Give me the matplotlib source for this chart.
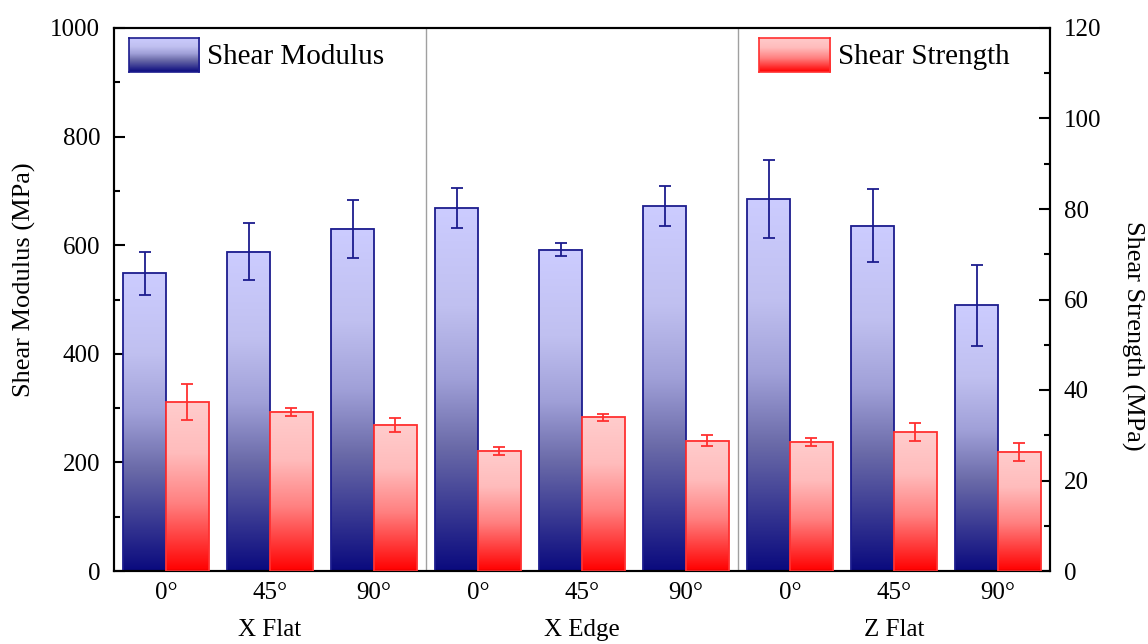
import numpy as np
import matplotlib
matplotlib.use("Agg")
import matplotlib.pyplot as plt
from matplotlib.colors import LinearSegmentedColormap

# data
groups = ["X Flat", "X Edge", "Z Flat"]
angles = ["0°", "45°", "90°"] * 3
modulus = [548, 588, 630, 668, 592, 672, 685, 636, 489]
modulus_err = [40, 52, 53, 37, 12, 37, 72, 67, 75]
strength = [37.3, 35.2, 32.3, 26.6, 34.0, 28.8, 28.6, 30.7, 26.3]
strength_err = [4.0, 0.9, 1.5, 0.9, 0.8, 1.2, 0.9, 2.0, 2.0]

plt.rcParams["font.family"] = ["Liberation Serif", "DejaVu Serif"]

blue_edge = "#1c1c8e"
red_edge = "#ff3030"
blue_cmap = LinearSegmentedColormap.from_list(
    "bluegrad",
    [(0.0, "#0a0a7e"), (0.34, "#6a6aa8"), (0.53, "#a0a0d8"), (0.73, "#c0c0f0"), (1.0, "#ccccff")],
)
red_cmap = LinearSegmentedColormap.from_list(
    "redgrad",
    [(0.0, "#ff0000"), (0.4, "#ff8080"), (0.7, "#ffbcbc"), (1.0, "#ffcccc")],
)
grad = np.linspace(0, 1, 256).reshape(-1, 1)

fig = plt.figure(figsize=(11.48, 6.44), dpi=100)
ax1 = fig.add_axes([114 / 1148, 1 - 571 / 644, 936 / 1148, 543 / 644])
ax2 = ax1.twinx()

x = np.arange(len(modulus))
w = 0.41


def gradient_bars(ax, xs, heights, errs, cmap, edge):
    for xi, h in zip(xs, heights):
        ax.imshow(grad, extent=(xi - w / 2, xi + w / 2, 0, h), aspect="auto",
                  cmap=cmap, origin="lower", interpolation="bicubic", zorder=2)
    ax.bar(xs, heights, w, fill=False, edgecolor=edge, linewidth=1.3, zorder=3)
    ax.errorbar(xs, heights, yerr=errs, fmt="none", ecolor=edge, elinewidth=1.3,
                capsize=4.5, capthick=1.3, zorder=4)


gradient_bars(ax1, x - w / 2, modulus, modulus_err, blue_cmap, blue_edge)
gradient_bars(ax2, x + w / 2, strength, strength_err, red_cmap, red_edge)

for sep in [2.5, 5.5]:
    ax1.axvline(sep, color="#a0a0a0", linewidth=1, zorder=1)

ax1.set_xlim(-0.5, 8.5)
ax1.set_ylim(0, 1000)
ax2.set_ylim(0, 120)

ax1.set_yticks(np.arange(0, 1001, 200))
ax1.set_yticks(np.arange(0, 1001, 100), minor=True)
ax2.set_yticks(np.arange(0, 121, 20))
ax2.set_yticks(np.arange(0, 121, 10), minor=True)
ax1.set_xticks(x)
ax1.set_xticklabels(angles)

ax1.tick_params(axis="x", length=0, pad=8, labelsize=18)
ax1.tick_params(axis="y", which="major", direction="in", length=8, width=1.5, pad=10, labelsize=18)
ax1.tick_params(axis="y", which="minor", direction="in", length=4.5, width=1.5)
ax2.tick_params(axis="y", which="major", direction="in", length=8, width=1.5, pad=10, labelsize=18)
ax2.tick_params(axis="y", which="minor", direction="in", length=4.5, width=1.5)

for ax in (ax1, ax2):
    for s in ax.spines.values():
        s.set_linewidth(1.5)

ax1.set_ylabel("Shear Modulus (MPa)", fontsize=19)
ax1.yaxis.set_label_coords(-0.083, 0.536)
ax2.set_ylabel("Shear Strength (MPa)", fontsize=19, rotation=270, va="center")
ax2.yaxis.set_label_coords(1.088, 0.433)

for gi, name in enumerate(groups):
    ax1.text(gi * 3 + 1, -0.109, name, transform=ax1.get_xaxis_transform(),
             ha="center", va="center", fontsize=18)

# legend swatches with gradients
for x0, x1, cmap, edge, label in [
    (0.016, 0.0908, blue_cmap, blue_edge, "Shear Modulus"),
    (0.689, 0.765, red_cmap, red_edge, "Shear Strength"),
]:
    sax = ax2.inset_axes([x0, 0.919, x1 - x0, 0.063])
    sax.imshow(grad, extent=(0, 1, 0, 1), aspect="auto", cmap=cmap, origin="lower")
    sax.set_xticks([])
    sax.set_yticks([])
    for s in sax.spines.values():
        s.set_edgecolor(edge)
        s.set_linewidth(1.2)
    ax2.text(x1 + 0.0086, 0.9466, label, transform=ax2.transAxes,
             ha="left", va="center", fontsize=21)

fig.savefig("out.png", dpi=100)
